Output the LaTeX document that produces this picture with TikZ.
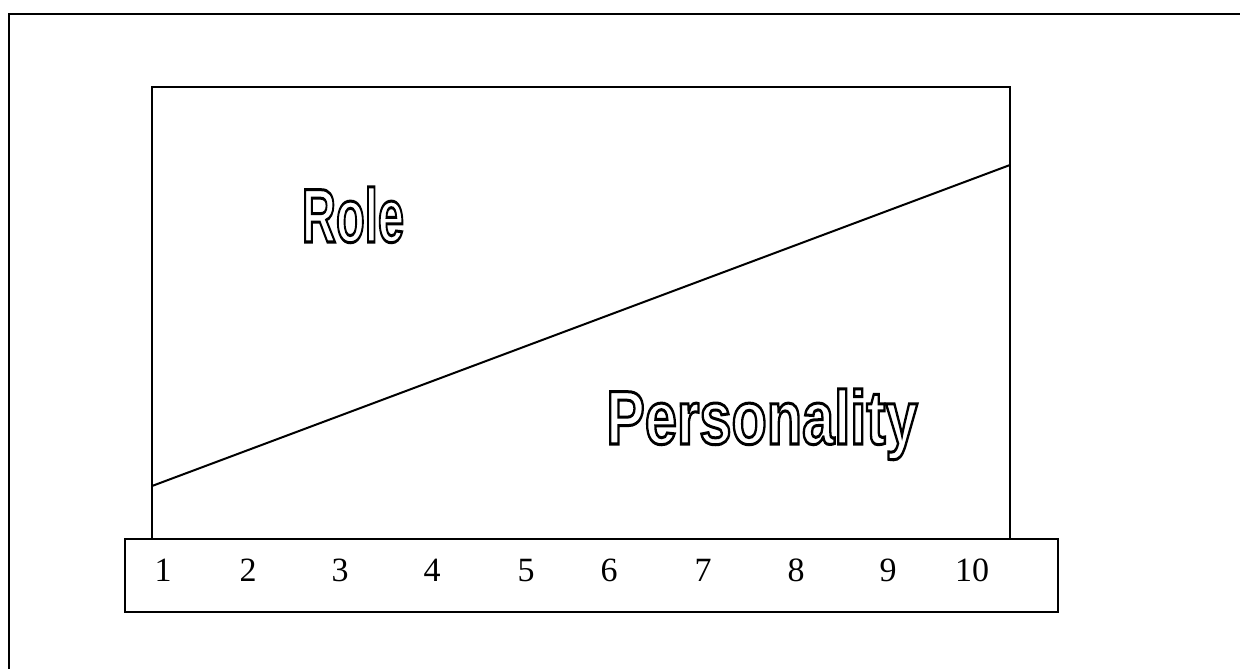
\documentclass[tikz,border=0pt]{standalone}
\usepackage{fontspec}
\setmainfont{Liberation Serif}
\newfontfamily\outlinefont{Liberation Sans}[BoldFont={* Bold}]
\newcommand\outlinetext[2]{\scalebox{#1}[1]{\special{pdf:literal direct 1 Tr 3 w}#2\special{pdf:literal direct 0 Tr}}}
\tikzset{
  frame/.style={line width=1.5pt},
  boxline/.style={line width=2.4pt},
  num/.style={font=\fontsize{34}{34}\selectfont, inner sep=0pt, anchor=base},
  big/.style={font=\outlinefont\bfseries\fontsize{76}{76}\selectfont, inner sep=0pt, anchor=base},
}
\begin{document}
\begin{tikzpicture}[x=1pt,y=-1pt]
\useasboundingbox (0,0) rectangle (1240,669);
\draw[frame] (9,669) -- (9,14) -- (1240,14);
% main box
\coordinate (tl) at (152,87);
\coordinate (br) at (1010,539);
\draw[boxline] (152,539) -- (tl) -- (1010,87) -- (br);
% scale box
\draw[boxline] (125,539) rectangle (1058,612);
% diagonal
\coordinate (lo) at (152,486);
\coordinate (hi) at (1010,165);
\draw[line width=2pt] (lo) -- (hi);
% numbers
\foreach \n/\x in {1/163,2/248,3/340,4/432,5/526,6/609,7/703,8/796,9/888,10/972}
  \node[num] (n\n) at (\x,581) {\n};
% labels
\node[big] (role) at (353,242) {\outlinetext{0.62}{Role}};
\node[big] (pers) at (762,444) {\outlinetext{0.76}{Personality}};
\end{tikzpicture}
\end{document}
